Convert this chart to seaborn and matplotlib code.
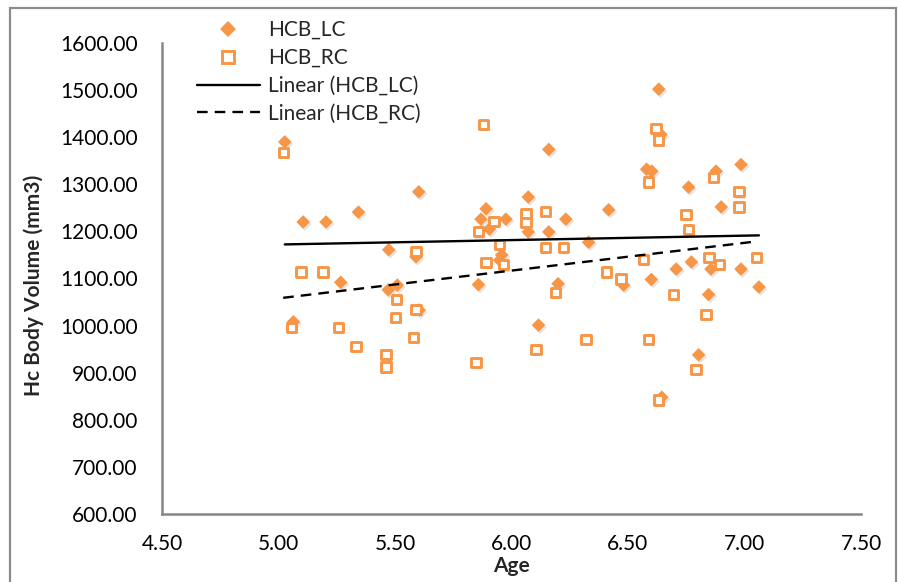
import matplotlib
matplotlib.use("Agg")
import matplotlib.pyplot as plt
import matplotlib.patheffects as pe
from matplotlib.patches import Rectangle
from matplotlib.lines import Line2D
import seaborn as sns
import numpy as np
import pandas as pd

# ---- data ----
lc_age = [5.027, 5.064, 5.106, 5.204, 5.267, 5.343, 5.473, 5.471, 5.51, 5.59,
          5.602, 5.604, 5.858, 5.869, 5.891, 5.905, 5.958, 5.949, 5.976, 6.072,
          6.072, 6.116, 6.16, 6.16, 6.2, 6.233, 6.331, 6.417, 6.481, 6.58,
          6.602, 6.6, 6.632, 6.641, 6.645, 6.707, 6.76, 6.772, 6.803, 6.846,
          6.856, 6.878, 6.9, 6.985, 6.985, 7.062]
lc_vol = [1390, 1008, 1220, 1220, 1092, 1241, 1161, 1076, 1086, 1146,
          1284, 1033, 1087, 1226, 1248, 1205, 1150, 1139, 1226, 1273,
          1199, 1001, 1374, 1199, 1089, 1226, 1177, 1246, 1086, 1332,
          1328, 1098, 1502, 1406, 848, 1120, 1294, 1135, 938, 1066,
          1120, 1328, 1252, 1342, 1120, 1082]

rc_age = [5.02, 5.055, 5.097, 5.191, 5.258, 5.333, 5.461, 5.461, 5.507, 5.503,
          5.59, 5.59, 5.579, 5.848, 5.858, 5.879, 5.891, 5.925, 5.949, 5.965,
          6.062, 6.062, 6.105, 6.147, 6.147, 6.19, 6.222, 6.32, 6.407, 6.47,
          6.567, 6.589, 6.589, 6.62, 6.632, 6.632, 6.696, 6.749, 6.76, 6.792,
          6.835, 6.848, 6.868, 6.892, 6.976, 6.976, 7.051]
rc_vol = [1368, 996, 1114, 1114, 996, 955, 938, 912, 1056, 1017,
          1157, 1035, 975, 922, 1199, 1427, 1134, 1221, 1173, 1129,
          1238, 1219, 950, 1242, 1166, 1071, 1166, 970, 1114, 1099,
          1141, 1305, 971, 1418, 1394, 842, 1066, 1236, 1204, 907,
          1024, 1145, 1315, 1130, 1284, 1252, 1145]

x_ticks = [4.5, 5.0, 5.5, 6.0, 6.5, 7.0, 7.5]
y_ticks = [600, 700, 800, 900, 1000, 1100, 1200, 1300, 1400, 1500, 1600]
series_names = ["HCB_LC", "HCB_RC", "Linear (HCB_LC)", "Linear (HCB_RC)"]

df_lc = pd.DataFrame({"Age": lc_age, "Vol": lc_vol})
df_rc = pd.DataFrame({"Age": rc_age, "Vol": rc_vol})

sns.set_theme(style="white")
plt.rcParams["font.family"] = ["Lato", "DejaVu Sans"]

ORANGE = "#F79646"
GRAY = "#868686"

fig = plt.figure(figsize=(8.98, 5.82), dpi=100)
ax = fig.add_axes([162/898, 1-514/582, (861-162)/898, (514-43)/582])

shadow = [pe.SimplePatchShadow(offset=(1.2, -1.5), shadow_rgbFace="#888888", alpha=0.22), pe.Normal()]

sns.scatterplot(data=df_lc, x="Age", y="Vol", marker="D", s=48, color=ORANGE,
                linewidth=0, ax=ax, zorder=3)
sns.scatterplot(data=df_rc, x="Age", y="Vol", marker="s", s=44, facecolor="white",
                edgecolor=ORANGE, linewidth=2.1, ax=ax, zorder=3)
for coll in ax.collections:
    coll.set_path_effects(shadow)

sns.regplot(data=df_lc, x="Age", y="Vol", scatter=False, ci=None, truncate=True, ax=ax,
            line_kws=dict(color="black", lw=1.7, zorder=4))
sns.regplot(data=df_rc, x="Age", y="Vol", scatter=False, ci=None, truncate=True, ax=ax,
            line_kws=dict(color="black", lw=1.7, dashes=(4.5, 3), zorder=4))

ax.set_xlim(x_ticks[0], x_ticks[-1])
ax.set_ylim(y_ticks[0], y_ticks[-1])
ax.set_xticks(x_ticks)
ax.set_yticks(y_ticks)
ax.set_xticklabels([f"{v:.2f}" for v in x_ticks])
ax.set_yticklabels([f"{v:.2f}" for v in y_ticks])

for s in ["top", "right"]:
    ax.spines[s].set_visible(False)
for s in ["left", "bottom"]:
    ax.spines[s].set_color(GRAY)
    ax.spines[s].set_linewidth(1.8)
ax.tick_params(axis="both", which="major", direction="out", length=5.5, width=1.5,
               color=GRAY, labelsize=15, labelcolor="black")
ax.tick_params(axis="y", pad=12)
ax.tick_params(axis="x", pad=9)
ax.grid(False)

ax.set_xlabel("Age", fontsize=15, fontweight="bold")
ax.set_ylabel("Hc Body Volume (mm3)", fontsize=15, fontweight="bold")
ax.xaxis.set_label_coords(0.5, (514-556)/471)
ax.yaxis.set_label_coords((44-162)/699, (514-285)/471)

handles = [
    Line2D([], [], marker="D", ls="none", color=ORANGE, markersize=8.5, markeredgewidth=0),
    Line2D([], [], marker="s", ls="none", markerfacecolor="white", markeredgecolor=ORANGE,
           markersize=8.5, markeredgewidth=2.1),
    Line2D([], [], color="black", lw=1.7),
    Line2D([], [], color="black", lw=1.7, dashes=(4.5, 3)),
]
fig.legend(handles, series_names, loc="upper left", bbox_to_anchor=(197/898, 1-20/582),
           frameon=False, fontsize=15, handlelength=3.0, handletextpad=0.4,
           labelspacing=0.38, borderpad=0, borderaxespad=0)

# chart-area border
fig.patches.append(Rectangle((10/898, -0.05), (896-10)/898, 1.05 - 8/582,
                             transform=fig.transFigure, fill=False,
                             edgecolor="#8c8c8c", lw=1.6))

fig.savefig("out.png", dpi=100)
